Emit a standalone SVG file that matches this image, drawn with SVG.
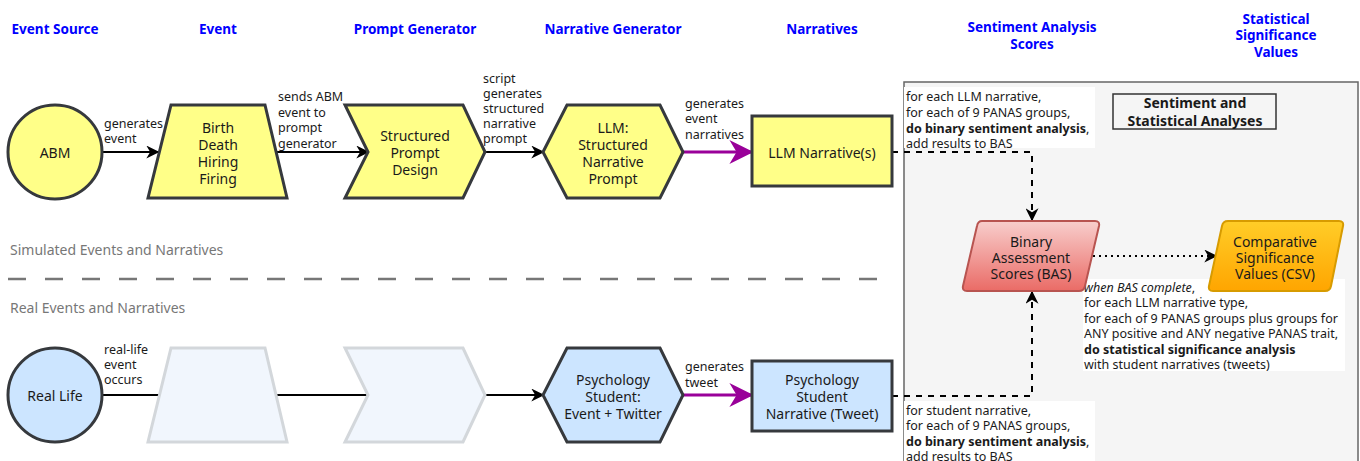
<svg xmlns="http://www.w3.org/2000/svg" width="1360" height="461" viewBox="0 0 1360 461">
<style>
text{font-family:"Noto Sans","Open Sans","DejaVu Sans",sans-serif;fill:#1a1a1a}
.hdr{font-size:13.5px;font-weight:bold;fill:#0000ff;text-anchor:middle}
.node{font-size:14px;text-anchor:middle;dominant-baseline:central}
.lbl{font-size:12.5px;dominant-baseline:central}
.sec{font-size:14px;fill:#777}
.y{fill:#ffff88;stroke:#36393d;stroke-width:3}
.b{fill:#cce5ff;stroke:#36393d;stroke-width:3}
.ghost{fill:#f1f6fd;stroke:#d3d7db;stroke-width:3}
.ln{fill:none;stroke:#000;stroke-width:2}
.pl{fill:none;stroke:#990099;stroke-width:3}
</style>
<defs>
<marker id="ahb" viewBox="0 0 10 10" refX="9" refY="5" markerWidth="13" markerHeight="13" markerUnits="userSpaceOnUse" orient="auto"><path d="M0,0 L10,5 L0,10 L3,5 z" fill="#000"/></marker>
<marker id="ap" viewBox="0 0 10 10" refX="9" refY="5" markerWidth="8" markerHeight="8" orient="auto"><path d="M0,0 L10,5 L0,10 L3,5 z" fill="#990099"/></marker>
<linearGradient id="gr" x1="0" y1="0" x2="0" y2="1"><stop offset="0" stop-color="#f8cecc"/><stop offset="1" stop-color="#ea6b66"/></linearGradient>
<linearGradient id="go" x1="0" y1="0" x2="0" y2="1"><stop offset="0" stop-color="#ffcd28"/><stop offset="1" stop-color="#ffa500"/></linearGradient>
</defs>

<g id="headers">
<text class="hdr" x="55" y="34">Event Source</text>
<text class="hdr" x="218" y="34">Event</text>
<text class="hdr" x="415" y="34">Prompt Generator</text>
<text class="hdr" x="613" y="34">Narrative Generator</text>
<text class="hdr" x="822" y="34">Narratives</text>
<text class="hdr" x="1032" y="32">Sentiment Analysis</text>
<text class="hdr" x="1032" y="49">Scores</text>
<text class="hdr" x="1276" y="24">Statistical</text>
<text class="hdr" x="1276" y="40">Significance</text>
<text class="hdr" x="1276" y="57">Values</text>
</g>

<g id="container">
<rect x="904" y="82" width="454" height="400" fill="#f5f5f5" stroke="#666" stroke-width="1.5"/>
</g>

<g id="sections">
<text class="sec" x="10" y="255">Simulated Events and Narratives</text>
<line x1="8" y1="279" x2="882" y2="279" stroke="#777" stroke-width="2.5" stroke-dasharray="18,19"/>
<text class="sec" x="10" y="313">Real Events and Narratives</text>
</g>

<g id="title-box">
<rect x="1113" y="94" width="163" height="35" fill="none" stroke="#333" stroke-width="1.5"/>
<text class="node" x="1195" y="102" font-weight="bold">Sentiment and</text>
<text class="node" x="1195" y="120" font-weight="bold">Statistical Analyses</text>
</g>

<g id="connectors">
<line class="ln" x1="102" y1="152" x2="158" y2="152" marker-end="url(#ahb)"/>
<line class="ln" x1="276" y1="152" x2="368" y2="152" marker-end="url(#ahb)"/>
<line class="ln" x1="485" y1="152" x2="543" y2="152" marker-end="url(#ahb)"/>
<line class="pl" x1="683" y1="152" x2="751" y2="152" marker-end="url(#ap)"/>
<line class="ln" x1="102" y1="395" x2="543" y2="395" marker-end="url(#ahb)"/>
<line class="pl" x1="683" y1="395" x2="751" y2="395" marker-end="url(#ap)"/>
<polyline class="ln" points="892,152 1032,152 1032,220" stroke-dasharray="6,6" marker-end="url(#ahb)"/>
<polyline class="ln" points="892,396 1032,396 1032,292" stroke-dasharray="6,6" marker-end="url(#ahb)"/>
<line class="ln" x1="1093" y1="256" x2="1216" y2="256" stroke-dasharray="2,4" marker-end="url(#ahb)"/>
</g>

<g id="edge-labels">
<text class="lbl" x="104" y="123">generates</text>
<text class="lbl" x="104" y="138">event</text>
<text class="lbl" x="278" y="96">sends ABM</text>
<text class="lbl" x="278" y="112">event to</text>
<text class="lbl" x="278" y="127">prompt</text>
<text class="lbl" x="278" y="143">generator</text>
<text class="lbl" x="483" y="78">script</text>
<text class="lbl" x="483" y="93">generates</text>
<text class="lbl" x="483" y="108">structured</text>
<text class="lbl" x="483" y="123">narrative</text>
<text class="lbl" x="483" y="138">prompt</text>
<text class="lbl" x="685" y="103">generates</text>
<text class="lbl" x="685" y="118">event</text>
<text class="lbl" x="685" y="134">narratives</text>
<text class="lbl" x="104" y="349">real-life</text>
<text class="lbl" x="104" y="364">event</text>
<text class="lbl" x="104" y="379">occurs</text>
<text class="lbl" x="685" y="366">generates</text>
<text class="lbl" x="685" y="382">tweet</text>
</g>

<g id="label-llm-bas">
<rect x="904" y="87" width="191" height="61" fill="#fff"/>
<text class="lbl" x="906" y="96">for each LLM narrative,</text>
<text class="lbl" x="906" y="112">for each of 9 PANAS groups,</text>
<text class="lbl" x="906" y="128"><tspan font-weight="bold">do binary sentiment analysis</tspan>,</text>
<text class="lbl" x="906" y="143">add results to BAS</text>
</g>

<g id="label-student-bas">
<rect x="904" y="401" width="191" height="62" fill="#fff"/>
<text class="lbl" x="906" y="410">for student narrative,</text>
<text class="lbl" x="906" y="425">for each of 9 PANAS groups,</text>
<text class="lbl" x="906" y="441"><tspan font-weight="bold">do binary sentiment analysis</tspan>,</text>
<text class="lbl" x="906" y="456">add results to BAS</text>
</g>

<g id="label-csv">
<rect x="1083" y="279" width="262" height="92" fill="#fff"/>
<text class="lbl" x="1084" y="287"><tspan font-style="italic">when BAS complete</tspan>,</text>
<text class="lbl" x="1084" y="302.5">for each LLM narrative type,</text>
<text class="lbl" x="1084" y="318">for each of 9 PANAS groups plus groups for</text>
<text class="lbl" x="1084" y="333.5">ANY positive and ANY negative PANAS trait,</text>
<text class="lbl" x="1084" y="349" font-weight="bold">do statistical significance analysis</text>
<text class="lbl" x="1084" y="364.5">with student narratives (tweets)</text>
</g>

<g id="abm">
<circle class="y" cx="55" cy="152" r="47"/>
<text class="node" x="55" y="152">ABM</text>
</g>
<g id="event">
<polygon class="y" points="171,105 265,105 287,198 148,198"/>
<text class="node" x="218" y="127">Birth</text>
<text class="node" x="218" y="144">Death</text>
<text class="node" x="218" y="161">Hiring</text>
<text class="node" x="218" y="178">Firing</text>
</g>
<g id="prompt">
<polygon class="y" points="345,105 463,105 485,152 463,198 345,198 368,152"/>
<text class="node" x="415" y="135">Structured</text>
<text class="node" x="415" y="152">Prompt</text>
<text class="node" x="415" y="169">Design</text>
</g>
<g id="llm">
<polygon class="y" points="567,105 660,105 683,152 660,198 567,198 543,152"/>
<text class="node" x="613" y="127">LLM:</text>
<text class="node" x="613" y="144">Structured</text>
<text class="node" x="613" y="161">Narrative</text>
<text class="node" x="613" y="178">Prompt</text>
</g>
<g id="llm-narrative">
<rect class="y" x="752" y="116" width="140" height="70"/>
<text class="node" x="822" y="152">LLM Narrative(s)</text>
</g>

<g id="real-life">
<circle class="b" cx="55" cy="395" r="47"/>
<text class="node" x="55" y="395">Real Life</text>
</g>
<g id="ghost-event">
<polygon class="ghost" points="171,348 265,348 287,442 148,442"/>
</g>
<g id="ghost-prompt">
<polygon class="ghost" points="345,348 463,348 485,395 463,442 345,442 368,395"/>
</g>
<g id="psych">
<polygon class="b" points="567,348 660,348 683,395 660,442 567,442 543,395"/>
<text class="node" x="613" y="379">Psychology</text>
<text class="node" x="613" y="396">Student:</text>
<text class="node" x="613" y="413">Event + Twitter</text>
</g>
<g id="psych-narrative">
<rect class="b" x="752" y="361" width="140" height="70"/>
<text class="node" x="822" y="379">Psychology</text>
<text class="node" x="822" y="396">Student</text>
<text class="node" x="822" y="413">Narrative (Tweet)</text>
</g>

<g id="bas">
<path d="M982,221 L1095,221 Q1100,221 1099,226 L1085,286 Q1084,291 1079,291 L967,291 Q962,291 963,286 L977,226 Q978,221 982,221 Z" fill="url(#gr)" stroke="#b85450" stroke-width="2"/>
<text class="node" x="1031" y="241">Binary</text>
<text class="node" x="1031" y="257">Assessment</text>
<text class="node" x="1031" y="273">Scores (BAS)</text>
</g>
<g id="csv">
<path d="M1228,221 L1339,221 Q1344,221 1343,226 L1331,286 Q1330,291 1325,291 L1213,291 Q1208,291 1209,286 L1222,226 Q1223,221 1228,221 Z" fill="url(#go)" stroke="#d79b00" stroke-width="2"/>
<text class="node" x="1275" y="241">Comparative</text>
<text class="node" x="1275" y="257">Significance</text>
<text class="node" x="1275" y="273">Values (CSV)</text>
</g>
</svg>
